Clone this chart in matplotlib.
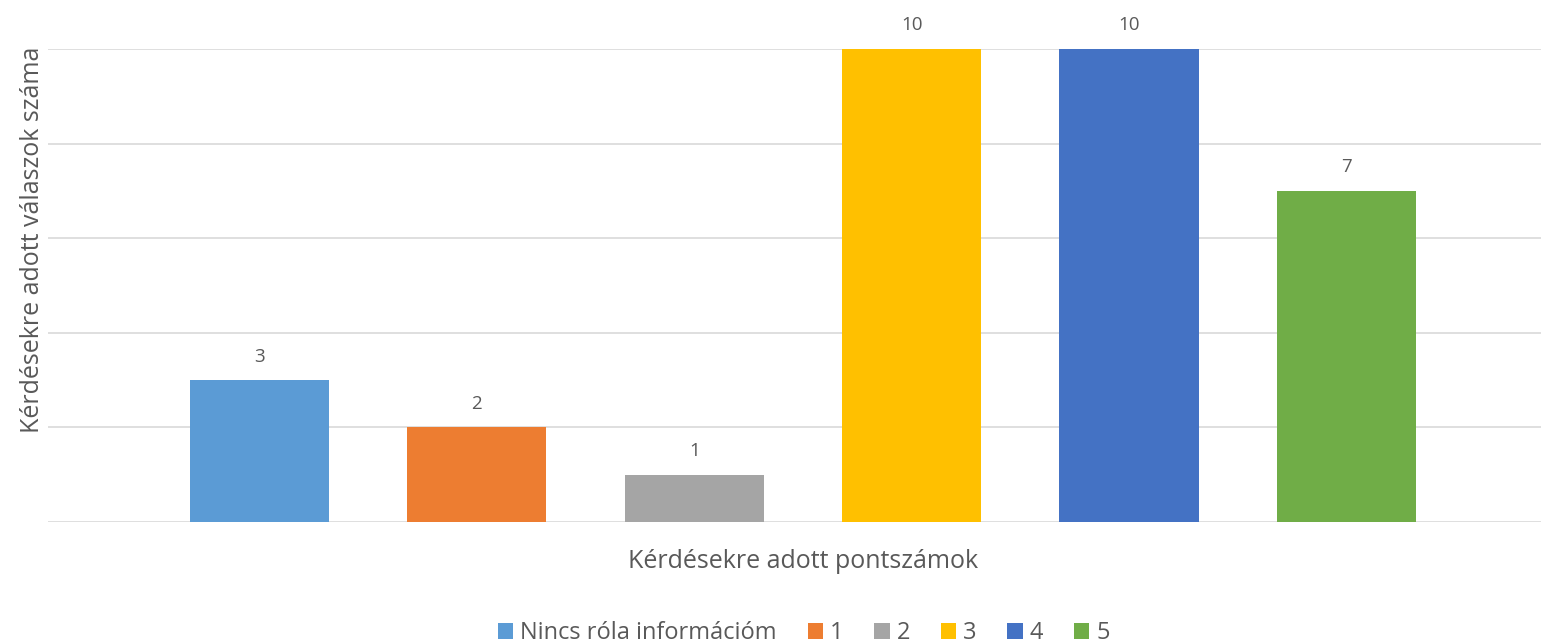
import matplotlib
matplotlib.use("Agg")
import matplotlib.pyplot as plt

series_names = ["Nincs róla információm", "1", "2", "3", "4", "5"]
values = [3, 2, 1, 10, 10, 7]
colors = ["#5B9BD5", "#ED7D31", "#A5A5A5", "#FFC000", "#4472C4", "#70AD47"]
yticks = [0, 2, 4, 6, 8, 10]

plt.rcParams['font.family'] = ['Open Sans', 'DejaVu Sans']
txt = "#595959"

fig = plt.figure(figsize=(15.41, 6.44), dpi=100)
ax = fig.add_axes([0.0311, 0.1894, 0.9689, 0.7345])

handles = []
for i, (n, v, c) in enumerate(zip(series_names, values, colors)):
    b = ax.bar(i, v, width=0.64, color=c, label=n, zorder=3)
    handles.append(b)
    ax.annotate(str(v), (i, v), xytext=(0, 17), textcoords='offset points',
                ha='center', va='center', fontsize=13.5, color=txt, annotation_clip=False)

ax.set_xlim(-0.973, 5.895)
ax.set_ylim(0, 10)
ax.set_yticks(yticks)
ax.yaxis.grid(True, color="#D9D9D9", linewidth=1.2, zorder=0)
ax.tick_params(axis='both', length=0, labelleft=False, labelbottom=False)
ax.set_xticks([])
for s in ax.spines.values():
    s.set_visible(False)

fig.text(803 / 1541, 1 - 562 / 644, "Kérdésekre adott pontszámok", ha='center', va='center',
         fontsize=18, color=txt)
fig.text(33 / 1541, 1 - 240 / 644, "Kérdésekre adott válaszok száma", ha='center', va='center',
         rotation=90, fontsize=18, color=txt)

fig.legend(handles=handles, labels=series_names, loc='center', bbox_to_anchor=(804 / 1541, 1 - 633 / 644),
           ncol=6, frameon=False, fontsize=17, labelcolor=txt, handlelength=0.65, handleheight=0.65,
           handletextpad=0.3, columnspacing=1.3)

fig.savefig("out.png", dpi=100)
